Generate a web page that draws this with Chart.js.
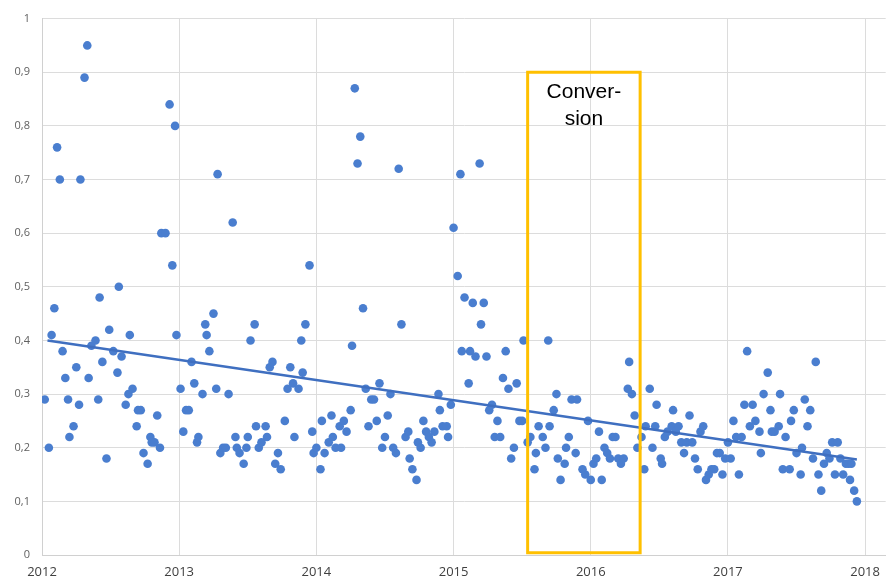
<!DOCTYPE html>
<html><head><meta charset="utf-8">
<script src="https://cdn.jsdelivr.net/npm/chart.js@4.4.1/dist/chart.umd.min.js"></script>
<style>html,body{margin:0;padding:0;background:#fff;}canvas{display:block;}</style>
</head><body>
<canvas id="c" width="890" height="582"></canvas>
<script>
// Observation dates (decimal years) and values
const xVals = [
 2012.02,2012.05,2012.07,2012.09,2012.11,2012.13,2012.15,2012.17,2012.19,2012.20,
 2012.23,2012.25,2012.27,2012.28,2012.31,2012.33,2012.34,2012.36,2012.39,2012.41,
 2012.42,2012.44,2012.47,2012.49,2012.52,2012.55,2012.56,2012.58,2012.61,2012.63,
 2012.64,2012.66,2012.69,2012.70,2012.72,2012.74,2012.77,2012.79,2012.80,2012.82,
 2012.84,2012.86,2012.87,2012.90,2012.93,2012.95,2012.97,2012.98,2013.01,2013.03,
 2013.05,2013.07,2013.09,2013.11,2013.13,2013.14,2013.17,2013.19,2013.20,2013.22,
 2013.25,2013.27,2013.28,2013.30,2013.32,2013.34,2013.36,2013.39,2013.41,2013.42,
 2013.44,2013.47,2013.49,2013.50,2013.52,2013.55,2013.56,2013.58,2013.60,2013.63,
 2013.64,2013.66,2013.68,2013.70,2013.72,2013.74,2013.77,2013.79,2013.81,2013.83,
 2013.84,2013.87,2013.89,2013.90,2013.92,2013.95,2013.97,2013.98,2014.00,2014.03,
 2014.04,2014.06,2014.09,2014.11,2014.12,2014.14,2014.17,2014.18,2014.20,2014.22,
 2014.25,2014.26,2014.28,2014.30,2014.32,2014.34,2014.36,2014.38,2014.40,2014.42,
 2014.44,2014.46,2014.48,2014.50,2014.52,2014.54,2014.56,2014.58,2014.60,2014.62,
 2014.65,2014.67,2014.68,2014.70,2014.73,2014.74,2014.76,2014.78,2014.80,2014.82,
 2014.84,2014.86,2014.89,2014.90,2014.92,2014.95,2014.96,2014.98,2015.00,2015.03,
 2015.05,2015.06,2015.08,2015.11,2015.12,2015.14,2015.16,2015.19,2015.20,2015.22,
 2015.24,2015.26,2015.28,2015.30,2015.32,2015.34,2015.36,2015.38,2015.40,2015.42,
 2015.44,2015.46,2015.48,2015.50,2015.51,2015.54,2015.56,2015.59,2015.60,2015.62,
 2015.65,2015.67,2015.69,2015.70,2015.73,2015.75,2015.76,2015.78,2015.81,2015.82,
 2015.84,2015.86,2015.89,2015.90,2015.94,2015.96,2015.98,2016.00,2016.02,2016.04,
 2016.06,2016.08,2016.10,2016.12,2016.14,2016.16,2016.18,2016.20,2016.22,2016.24,
 2016.27,2016.28,2016.30,2016.32,2016.34,2016.37,2016.39,2016.40,2016.43,2016.45,
 2016.47,2016.48,2016.51,2016.52,2016.54,2016.56,2016.59,2016.60,2016.62,2016.64,
 2016.66,2016.68,2016.70,2016.72,2016.74,2016.76,2016.78,2016.80,2016.82,2016.84,
 2016.86,2016.88,2016.90,2016.92,2016.94,2016.96,2016.98,2017.00,2017.02,2017.04,
 2017.06,2017.08,2017.10,2017.12,2017.14,2017.16,2017.18,2017.20,2017.23,2017.24,
 2017.26,2017.29,2017.31,2017.32,2017.34,2017.37,2017.38,2017.40,2017.42,2017.45,
 2017.46,2017.48,2017.50,2017.53,2017.54,2017.56,2017.58,2017.60,2017.62,2017.64,
 2017.66,2017.68,2017.70,2017.72,2017.74,2017.76,2017.78,2017.80,2017.82,2017.84,
 2017.86,2017.88,2017.89,2017.90,2017.92,2017.94
];
const yVals = [
 0.29,0.20,0.41,0.46,0.76,0.70,0.38,0.33,0.29,0.22,
 0.24,0.35,0.28,0.70,0.89,0.95,0.33,0.39,0.40,0.29,
 0.48,0.36,0.18,0.42,0.38,0.34,0.50,0.37,0.28,0.30,
 0.41,0.31,0.24,0.27,0.27,0.19,0.17,0.22,0.21,0.21,
 0.26,0.20,0.60,0.60,0.84,0.54,0.80,0.41,0.31,0.23,
 0.27,0.27,0.36,0.32,0.21,0.22,0.30,0.43,0.41,0.38,
 0.45,0.31,0.71,0.19,0.20,0.20,0.30,0.62,0.22,0.20,
 0.19,0.17,0.20,0.22,0.40,0.43,0.24,0.20,0.21,0.24,
 0.22,0.35,0.36,0.17,0.19,0.16,0.25,0.31,0.35,0.32,
 0.22,0.31,0.40,0.34,0.43,0.54,0.23,0.19,0.20,0.16,
 0.25,0.19,0.21,0.26,0.22,0.20,0.24,0.20,0.25,0.23,
 0.27,0.39,0.87,0.73,0.78,0.46,0.31,0.24,0.29,0.29,
 0.25,0.32,0.20,0.22,0.26,0.30,0.20,0.19,0.72,0.43,
 0.22,0.23,0.18,0.16,0.14,0.21,0.20,0.25,0.23,0.22,
 0.21,0.23,0.30,0.27,0.24,0.24,0.22,0.28,0.61,0.52,
 0.71,0.38,0.48,0.32,0.38,0.47,0.37,0.73,0.43,0.47,
 0.37,0.27,0.28,0.22,0.25,0.22,0.33,0.38,0.31,0.18,
 0.20,0.32,0.25,0.25,0.40,0.21,0.22,0.16,0.19,0.24,
 0.22,0.20,0.40,0.24,0.27,0.30,0.18,0.14,0.17,0.20,
 0.22,0.29,0.19,0.29,0.16,0.15,0.25,0.14,0.17,0.18,
 0.23,0.14,0.20,0.19,0.18,0.22,0.22,0.18,0.17,0.18,
 0.31,0.36,0.30,0.26,0.20,0.22,0.16,0.24,0.31,0.20,
 0.24,0.28,0.18,0.17,0.22,0.23,0.24,0.27,0.23,0.24,
 0.21,0.19,0.21,0.26,0.21,0.18,0.16,0.23,0.24,0.14,
 0.15,0.16,0.16,0.19,0.19,0.15,0.18,0.21,0.18,0.25,
 0.22,0.15,0.22,0.28,0.38,0.24,0.28,0.25,0.23,0.19,
 0.30,0.34,0.27,0.23,0.23,0.24,0.30,0.16,0.22,0.16,
 0.25,0.27,0.19,0.15,0.20,0.29,0.24,0.27,0.18,0.36,
 0.15,0.12,0.17,0.19,0.18,0.21,0.15,0.21,0.18,0.15,
 0.17,0.17,0.14,0.17,0.12,0.10
];
// Linear trend line end points
const trendX = [2012.04, 2017.94];
const trendY = [0.400, 0.178];
// "Conversion" period box
const boxX = [2015.54, 2015.54, 2016.36, 2016.36, 2015.54];
const boxY = [0.004, 0.90, 0.90, 0.004, 0.004];
const boxLabel = ['Conver-', 'sion'];
// Axis ticks
const xTicks = [2012, 2013, 2014, 2015, 2016, 2017, 2018];
const yTicks = [0, 0.1, 0.2, 0.3, 0.4, 0.5, 0.6, 0.7, 0.8, 0.9, 1];

const pts = xVals.map((x, i) => ({x: x, y: yVals[i]}));
const trend = trendX.map((x, i) => ({x: x, y: trendY[i]}));
const box = boxX.map((x, i) => ({x: x, y: boxY[i]}));

const labelPlugin = {
  id: 'boxLabel',
  afterDatasetsDraw(chart) {
    const xs = chart.scales.x, ys = chart.scales.y, ctx = chart.ctx;
    const cx = xs.getPixelForValue((boxX[0] + boxX[2]) / 2);
    ctx.save();
    ctx.font = '21px "Liberation Sans", Arial, sans-serif';
    ctx.fillStyle = '#000';
    ctx.textAlign = 'center';
    ctx.textBaseline = 'alphabetic';
    ctx.fillText(boxLabel[0], cx, ys.getPixelForValue(0.852));
    ctx.fillText(boxLabel[1], cx, ys.getPixelForValue(0.802));
    ctx.restore();
  }
};

new Chart(document.getElementById('c'), {
  type: 'scatter',
  data: {
    datasets: [
      { data: box, showLine: true, borderColor: '#FFC000', borderWidth: 3, pointRadius: 0,
        borderJoinStyle: 'miter', borderCapStyle: 'square', fill: false, order: 0 },
      { data: trend, showLine: true, borderColor: '#3f6fc0', borderWidth: 2.5, pointRadius: 0, order: 1 },
      { data: pts, backgroundColor: '#4a7ecf', borderWidth: 0, pointRadius: 4.3, order: 2 }
    ]
  },
  options: {
    responsive: false,
    animation: false,
    layout: { padding: { top: 14, right: 0, bottom: 0, left: 0 } },
    plugins: { legend: { display: false }, tooltip: { enabled: false } },
    scales: {
      x: {
        type: 'linear', min: 2012, max: 2018.15,
        afterBuildTicks: s => { s.ticks = xTicks.map(v => ({value: v})); },
        afterFit: s => { s.height = 27; },
        ticks: { callback: v => String(v), color: '#404040', padding: 9,
                 font: { family: '"Open Sans", sans-serif', size: 13 }, maxRotation: 0, autoSkip: false },
        grid: { color: '#dcdcdc', lineWidth: 1, drawTicks: false },
        border: { color: '#d0d0d0' }
      },
      y: {
        min: 0, max: 1,
        afterBuildTicks: s => { s.ticks = yTicks.map(v => ({value: v})); },
        afterFit: s => { s.width = 42; },
        ticks: { callback: v => String(v).replace('.', ','), color: '#606060', padding: 12,
                 font: { family: '"Open Sans", sans-serif', size: 11 } },
        grid: { color: '#dcdcdc', lineWidth: 1, drawTicks: false },
        border: { color: '#d0d0d0' }
      }
    }
  },
  plugins: [labelPlugin]
});
</script>
</body></html>
